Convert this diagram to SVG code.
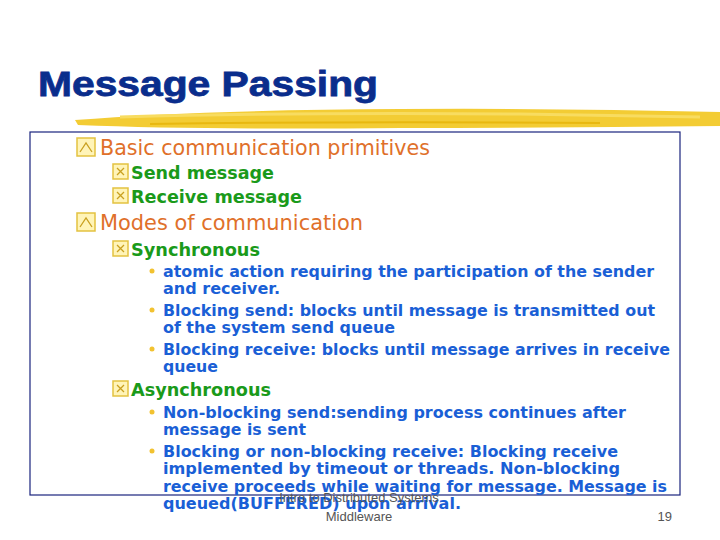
<svg xmlns="http://www.w3.org/2000/svg" width="720" height="540" viewBox="0 0 720 540">
<style>
.t{font-family:"Liberation Sans",Arial,sans-serif;font-weight:bold;font-size:35px;fill:#0a2d8c;stroke:#0a2d8c;stroke-width:0.8}
.l1{font-family:"DejaVu Sans",Verdana,sans-serif;font-size:21px;fill:#e0702a}
.l2{font-family:"DejaVu Sans",Verdana,sans-serif;font-weight:bold;font-size:17px;fill:#1a9a1a}
.l3{font-family:"DejaVu Sans",Verdana,sans-serif;font-weight:bold;font-size:15.5px;fill:#1a5fd6}
.f{font-family:"Liberation Sans",Arial,sans-serif;font-size:13px;fill:#555}
.ib{fill:#fff4b8;stroke:#e3c240;stroke-width:1.5}
.ic{fill:none;stroke:#c9a020;stroke-width:1.3}
.dot{fill:#f2c230}
</style>
<rect width="720" height="540" fill="#fff"/>
<g id="title">
<text class="t" x="38" y="96" textLength="340" lengthAdjust="spacingAndGlyphs">Message Passing</text>
<path d="M75 120 Q200 110 400 109 Q560 108 720 112 L720 126 Q560 128 400 128 Q200 130 78 125 Z" fill="#f2c61e" opacity="0.9"/>
<path d="M120 117 Q300 112 520 114 L700 117" stroke="#f8dc60" stroke-width="3" fill="none"/>
<path d="M150 124 Q350 121 600 123" stroke="#e8b810" stroke-width="2" fill="none"/>
</g>
<g id="frame"><rect x="30" y="132" width="650" height="363" fill="none" stroke="#1a237e" stroke-width="1.2"/></g>
<g id="content">
<rect class="ib" x="77" y="138" width="18" height="18"/><path class="ic" d="M80 152 L86 143 L92 152"/>
<text class="l1" x="100" y="155" textLength="330" lengthAdjust="spacingAndGlyphs">Basic communication primitives</text>
<rect class="ib" x="113" y="164" width="15" height="15"/><path class="ic" d="M117 168 L124 175 M124 168 L117 175"/>
<text class="l2" x="131" y="179" textLength="143" lengthAdjust="spacingAndGlyphs">Send message</text>
<rect class="ib" x="113" y="188" width="15" height="15"/><path class="ic" d="M117 192 L124 199 M124 192 L117 199"/>
<text class="l2" x="131" y="203" textLength="171" lengthAdjust="spacingAndGlyphs">Receive message</text>
<rect class="ib" x="77" y="213" width="18" height="18"/><path class="ic" d="M80 227 L86 218 L92 227"/>
<text class="l1" x="100" y="230" textLength="263" lengthAdjust="spacingAndGlyphs">Modes of communication</text>
<rect class="ib" x="113" y="241" width="15" height="15"/><path class="ic" d="M117 245 L124 252 M124 245 L117 252"/>
<text class="l2" x="131" y="256" textLength="129" lengthAdjust="spacingAndGlyphs">Synchronous</text>
<circle class="dot" cx="152" cy="271" r="2.5"/>
<text class="l3" x="163" y="277" textLength="491" lengthAdjust="spacingAndGlyphs">atomic action requiring the participation of the sender</text>
<text class="l3" x="163" y="294" textLength="117" lengthAdjust="spacingAndGlyphs">and receiver.</text>
<circle class="dot" cx="152" cy="310" r="2.5"/>
<text class="l3" x="163" y="316" textLength="492" lengthAdjust="spacingAndGlyphs">Blocking send: blocks until message is transmitted out</text>
<text class="l3" x="163" y="333" textLength="232" lengthAdjust="spacingAndGlyphs">of the system send queue</text>
<circle class="dot" cx="152" cy="349" r="2.5"/>
<text class="l3" x="163" y="355" textLength="507" lengthAdjust="spacingAndGlyphs">Blocking receive: blocks until message arrives in receive</text>
<text class="l3" x="163" y="372" textLength="55" lengthAdjust="spacingAndGlyphs">queue</text>
<rect class="ib" x="113" y="381" width="15" height="15"/><path class="ic" d="M117 385 L124 392 M124 385 L117 392"/>
<text class="l2" x="131" y="396" textLength="140" lengthAdjust="spacingAndGlyphs">Asynchronous</text>
<circle class="dot" cx="152" cy="412" r="2.5"/>
<text class="l3" x="163" y="418" textLength="463" lengthAdjust="spacingAndGlyphs">Non-blocking send:sending process continues after</text>
<text class="l3" x="163" y="435" textLength="143" lengthAdjust="spacingAndGlyphs">message is sent</text>
<circle class="dot" cx="152" cy="451" r="2.5"/>
<text class="l3" x="163" y="457" textLength="455" lengthAdjust="spacingAndGlyphs">Blocking or non-blocking receive: Blocking receive</text>
<text class="l3" x="163" y="474" textLength="457" lengthAdjust="spacingAndGlyphs">implemented by timeout or threads.  Non-blocking</text>
<text class="l3" x="163" y="492" textLength="504" lengthAdjust="spacingAndGlyphs">receive proceeds while waiting for message. Message is</text>
<text class="l3" x="163" y="509" textLength="298" lengthAdjust="spacingAndGlyphs">queued(BUFFERED) upon arrival.</text>
</g>
<g id="footer">
<text class="f" x="359" y="502" text-anchor="middle">Intro to Distributed Systems</text>
<text class="f" x="359" y="521" text-anchor="middle">Middleware</text>
<text class="f" x="672" y="521" text-anchor="end">19</text>
</g>
</svg>
